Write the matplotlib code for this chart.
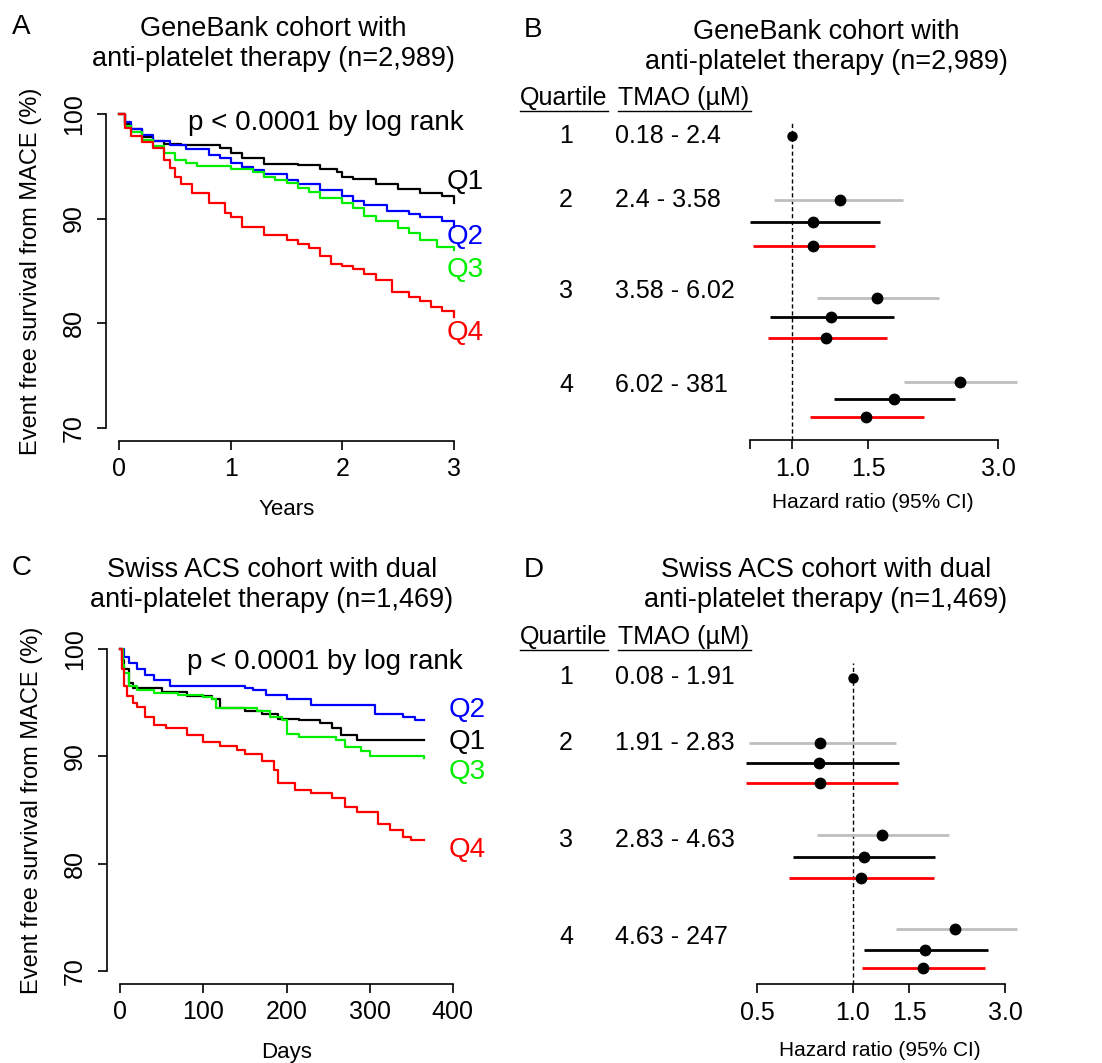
import matplotlib
matplotlib.use("Agg")
import matplotlib.pyplot as plt
from matplotlib.lines import Line2D

plt.rcParams.update({
    "font.family": ["Liberation Sans", "DejaVu Sans"],
    "axes.linewidth": 1.2,
    "xtick.major.width": 1.2,
    "ytick.major.width": 1.2,
    "xtick.major.size": 6.5,
    "ytick.major.size": 6.5,
    "xtick.direction": "out",
    "ytick.direction": "out",
})

# --------------------------------------------------------------------------- #
# data
# --------------------------------------------------------------------------- #
# A: GeneBank, Kaplan-Meier (years, % event free)
A_Q1_T = [0, 0.05, 0.1, 0.2, 0.3, 0.4, 0.55, 0.9, 1.0, 1.1, 1.3, 1.6, 1.8, 1.95, 2.0, 2.1, 2.3, 2.5, 2.7, 2.9, 3.0]
A_Q1_S = [100, 99.0, 98.5, 97.8, 97.4, 97.1, 97.0, 96.7, 96.2, 95.8, 95.2, 95.1, 94.7, 94.4, 94.0, 93.8, 93.3, 92.8, 92.4, 92.1, 91.5]
A_Q2_T = [0, 0.05, 0.1, 0.2, 0.3, 0.45, 0.6, 0.8, 0.9, 1.0, 1.1, 1.2, 1.3, 1.5, 1.6, 1.8, 2.0, 2.1, 2.2, 2.4, 2.6, 2.7, 2.9, 3.0]
A_Q2_S = [100, 99.2, 98.5, 98.0, 97.4, 97.0, 96.6, 96.1, 95.8, 95.3, 94.9, 94.6, 94.2, 93.7, 93.3, 92.7, 92.1, 91.7, 91.3, 90.7, 90.4, 90.1, 89.8, 89.2]
A_Q3_T = [0, 0.05, 0.1, 0.2, 0.3, 0.4, 0.5, 0.6, 0.7, 1.0, 1.2, 1.3, 1.4, 1.5, 1.6, 1.7, 1.8, 2.0, 2.1, 2.2, 2.3, 2.5, 2.6, 2.7, 2.85, 3.0]
A_Q3_S = [100, 98.8, 98.2, 97.5, 96.9, 96.2, 95.6, 95.3, 95.0, 94.7, 94.4, 94.0, 93.7, 93.4, 92.9, 92.5, 92.0, 91.5, 91.0, 90.2, 89.8, 89.1, 88.6, 88.0, 87.3, 87.0]
A_Q4_T = [0, 0.05, 0.1, 0.2, 0.3, 0.4, 0.45, 0.5, 0.55, 0.65, 0.8, 0.95, 1.0, 1.1, 1.3, 1.5, 1.6, 1.7, 1.8, 1.9, 2.0, 2.1, 2.2, 2.3, 2.45, 2.6, 2.7, 2.8, 2.9, 3.0]
A_Q4_S = [100, 98.6, 97.9, 97.3, 96.7, 95.6, 94.8, 94.0, 93.3, 92.4, 91.5, 90.5, 90.1, 89.2, 88.4, 88.0, 87.6, 87.2, 86.4, 85.7, 85.5, 85.2, 84.7, 84.1, 83.0, 82.5, 82.1, 81.6, 81.2, 80.6]

# C: Swiss ACS, Kaplan-Meier (days, % event free)
C_Q1_T = [0, 2, 5, 10, 15, 50, 80, 110, 120, 150, 170, 190, 215, 240, 255, 265, 285, 365]
C_Q1_S = [100, 99.0, 98.1, 96.8, 96.4, 96.0, 95.6, 95.3, 94.5, 94.2, 93.9, 93.5, 93.4, 93.1, 92.6, 92.0, 91.5, 91.5]
C_Q2_T = [0, 5, 10, 20, 30, 40, 60, 150, 160, 175, 200, 230, 307, 340, 355, 365]
C_Q2_S = [100, 99.2, 98.7, 98.1, 97.6, 97.1, 96.5, 96.4, 96.2, 95.7, 95.3, 94.8, 93.9, 93.7, 93.4, 93.4]
C_Q3_T = [0, 3, 5, 10, 20, 40, 70, 100, 110, 115, 165, 180, 195, 200, 215, 260, 270, 290, 300, 365]
C_Q3_S = [100, 98.5, 97.8, 96.5, 96.2, 95.9, 95.7, 95.5, 95.3, 94.5, 94.2, 93.7, 93.4, 92.1, 91.8, 91.5, 90.9, 90.5, 90.0, 89.8]
C_Q4_T = [0, 2, 5, 8, 15, 20, 30, 40, 55, 80, 100, 120, 140, 150, 170, 185, 190, 210, 230, 255, 270, 285, 310, 325, 340, 350, 365]
C_Q4_S = [100, 98.1, 96.5, 95.6, 95.0, 94.6, 93.7, 92.9, 92.6, 92.0, 91.3, 91.0, 90.6, 90.2, 89.6, 88.7, 87.5, 86.9, 86.6, 86.1, 85.3, 84.8, 83.7, 83.1, 82.5, 82.2, 82.2]

# forest plots: quartiles 2-4 vs Q1 (three models each: grey, black, red)
QUARTILES = ["1", "2", "3", "4"]
B_RANGES = ["0.18 - 2.4", "2.4 - 3.58", "3.58 - 6.02", "6.02 - 381"]
D_RANGES = ["0.08 - 1.91", "1.91 - 2.83", "2.83 - 4.63", "4.63 - 247"]

B_GREY_HR = [1.29, 1.57, 2.45]
B_GREY_LO = [0.91, 1.14, 1.82]
B_GREY_HI = [1.81, 2.19, 3.32]
B_BLACK_HR = [1.12, 1.23, 1.72]
B_BLACK_LO = [0.80, 0.89, 1.25]
B_BLACK_HI = [1.60, 1.72, 2.39]
B_RED_HR = [1.12, 1.20, 1.48]
B_RED_LO = [0.81, 0.88, 1.10]
B_RED_HI = [1.56, 1.66, 2.02]

D_GREY_HR = [0.79, 1.23, 2.09]
D_GREY_LO = [0.47, 0.77, 1.36]
D_GREY_HI = [1.36, 2.00, 3.27]
D_BLACK_HR = [0.78, 1.08, 1.68]
D_BLACK_LO = [0.46, 0.65, 1.08]
D_BLACK_HI = [1.39, 1.81, 2.65]
D_RED_HR = [0.79, 1.06, 1.66]
D_RED_LO = [0.46, 0.63, 1.07]
D_RED_HI = [1.38, 1.80, 2.60]

COL = {"Q1": "black", "Q2": "#0000FF", "Q3": "#00EE00", "Q4": "#FF0000"}
GREY = "#BEBEBE"

# --------------------------------------------------------------------------- #
# layout helpers (pixel based)
# --------------------------------------------------------------------------- #
W, H = 1102, 1063
fig = plt.figure(figsize=(W / 100, H / 100), dpi=100)


def fx(x):
    return x / W


def fy(y):
    return 1 - y / H


def box(l, t, r, b):
    return [l / W, 1 - b / H, (r - l) / W, (b - t) / H]


def ftext(x, y, s, **kw):
    kw.setdefault("va", "center")
    kw.setdefault("fontsize", 18)
    fig.text(fx(x), fy(y), s, **kw)


def km_panel(rect, curves, labels, xmax, xticks, xlabel, ptext_xy):
    ax = fig.add_axes(rect)
    for t, s, c in curves:
        ax.step(t, s, where="post", color=c, lw=1.6, clip_on=False)
    ax.set_xlim(-0.04 * xmax, 1.04 * xmax)
    ax.set_ylim(68.8, 101.2)
    for side in ["top", "right"]:
        ax.spines[side].set_visible(False)
    ax.spines["left"].set_bounds(70, 100)
    ax.spines["bottom"].set_bounds(0, xmax)
    ax.set_yticks([70, 80, 90, 100])
    ax.set_xticks(xticks)
    ax.tick_params(axis="y", labelsize=18, pad=8)
    ax.tick_params(axis="x", labelsize=18, pad=5)
    for lab in ax.get_yticklabels():
        lab.set_rotation(90)
        lab.set_va("center")
    ax.set_xlabel(xlabel, fontsize=16, labelpad=13)
    ax.set_ylabel("Event free survival from MACE (%)", fontsize=17, labelpad=14)
    for (x, y, s, c) in labels:
        ftext(x, y, s, color=c, fontsize=20, ha="left")
    ftext(ptext_xy[0], ptext_xy[1], "p < 0.0001 by log rank", fontsize=20, ha="center")
    return ax


# --------------------------------------------------------------------------- #
# A
# --------------------------------------------------------------------------- #
km_panel(
    box(106, 101, 467, 441),
    [(A_Q1_T, A_Q1_S, COL["Q1"]), (A_Q2_T, A_Q2_S, COL["Q2"]),
     (A_Q3_T, A_Q3_S, COL["Q3"]), (A_Q4_T, A_Q4_S, COL["Q4"])],
    [(447, 182, "Q1", COL["Q1"]), (447, 237, "Q2", COL["Q2"]),
     (447, 270, "Q3", COL["Q3"]), (447, 333, "Q4", COL["Q4"])],
    3, [0, 1, 2, 3], "Years", (326, 123),
)

# --------------------------------------------------------------------------- #
# C
# --------------------------------------------------------------------------- #
km_panel(
    box(107, 636, 466, 984),
    [(C_Q1_T, C_Q1_S, COL["Q1"]), (C_Q2_T, C_Q2_S, COL["Q2"]),
     (C_Q3_T, C_Q3_S, COL["Q3"]), (C_Q4_T, C_Q4_S, COL["Q4"])],
    [(449, 710, "Q2", COL["Q2"]), (449, 742, "Q1", COL["Q1"]),
     (449, 772, "Q3", COL["Q3"]), (449, 850, "Q4", COL["Q4"])],
    400, [0, 100, 200, 300, 400], "Days", (325, 662),
)


# --------------------------------------------------------------------------- #
# forest plots
# --------------------------------------------------------------------------- #
def forest_panel(rect, ybot, ytop, xlim, q1_y, rows_y, models, ticks, ticklabels,
                 spine_lo, dash_top, ranges, label_y, head_y, xlabel_y, xlabel_x):
    ax = fig.add_axes(rect)
    ax.set_xscale("log")
    ax.set_xlim(*xlim)
    ax.set_ylim(ybot, ytop)
    ax.vlines(1.0, ybot, dash_top, colors="black", linestyles=(0, (3, 2)), lw=1.0, zorder=1)
    ax.plot([1.0], [q1_y], "o", color="black", ms=6.5, zorder=3)
    for k, (hr, lo, hi, c) in enumerate(models):
        for i in range(3):
            y = rows_y[i][k]
            ax.plot([lo[i], hi[i]], [y, y], color=c, lw=2.0, solid_capstyle="butt", zorder=2)
            ax.plot([hr[i]], [y], "o", color="black", ms=7.5, zorder=3)
    for side in ["top", "right", "left"]:
        ax.spines[side].set_visible(False)
    ax.spines["bottom"].set_bounds(spine_lo, 3.0)
    ax.set_yticks([])
    ax.set_xticks(ticks)
    ax.set_xticklabels(ticklabels)
    ax.xaxis.set_minor_locator(plt.NullLocator())
    ax.tick_params(axis="x", labelsize=18, pad=6)

    # table text
    ftext(520, head_y, "Quartile", ha="left")
    ftext(618, head_y, "TMAO (\u00b5M)", ha="left")
    for x0, x1 in [(520, 608), (618, 751)]:
        fig.add_artist(Line2D([fx(x0), fx(x1)], [fy(head_y + 13)] * 2, color="black", lw=1.0))
    for q, r, y in zip(QUARTILES, ranges, label_y):
        ftext(566, y, q, ha="center")
        ftext(615, y, r, ha="left")
    ftext(xlabel_x, xlabel_y, "Hazard ratio (95% CI)", fontsize=15, ha="center")
    return ax


forest_panel(
    box(700, 100, 1102, 440), 440, 100, (0.612, 5.22), 136,
    [(200, 222, 246), (298, 317, 338), (382, 399, 417)],
    [(B_GREY_HR, B_GREY_LO, B_GREY_HI, GREY),
     (B_BLACK_HR, B_BLACK_LO, B_BLACK_HI, "black"),
     (B_RED_HR, B_RED_LO, B_RED_HI, "#FF0000")],
    [0.8, 1.0, 1.5, 3.0], ["", "1.0", "1.5", "3.0"], 0.8, 122,
    B_RANGES, [136, 200, 291, 385], 98, 502, 873,
)

forest_panel(
    box(700, 640, 1102, 984), 984, 640, (0.331, 6.05), 678,
    [(743, 763, 783), (835, 857, 878), (929, 950, 968)],
    [(D_GREY_HR, D_GREY_LO, D_GREY_HI, GREY),
     (D_BLACK_HR, D_BLACK_LO, D_BLACK_HI, "black"),
     (D_RED_HR, D_RED_LO, D_RED_HI, "#FF0000")],
    [0.5, 1.0, 1.5, 3.0], ["0.5", "1.0", "1.5", "3.0"], 0.5, 663,
    D_RANGES, [677, 743, 840, 937], 637, 1050, 880,
)

# --------------------------------------------------------------------------- #
# titles and panel letters
# --------------------------------------------------------------------------- #
ftext(12, 27, "A", fontsize=20, ha="left")
ftext(524, 30, "B", fontsize=20, ha="left")
ftext(12, 568, "C", fontsize=20, ha="left")
ftext(524, 570, "D", fontsize=20, ha="left")

ftext(273, 44, "GeneBank cohort with\nanti-platelet therapy (n=2,989)", fontsize=19.5, ha="center", linespacing=1.2)
ftext(826, 47, "GeneBank cohort with\nanti-platelet therapy (n=2,989)", fontsize=19.5, ha="center", linespacing=1.2)
ftext(272, 585, "Swiss ACS cohort with dual\nanti-platelet therapy (n=1,469)", fontsize=19.5, ha="center", linespacing=1.2)
ftext(826, 585, "Swiss ACS cohort with dual\nanti-platelet therapy (n=1,469)", fontsize=19.5, ha="center", linespacing=1.2)

fig.savefig("out.png", dpi=100)
